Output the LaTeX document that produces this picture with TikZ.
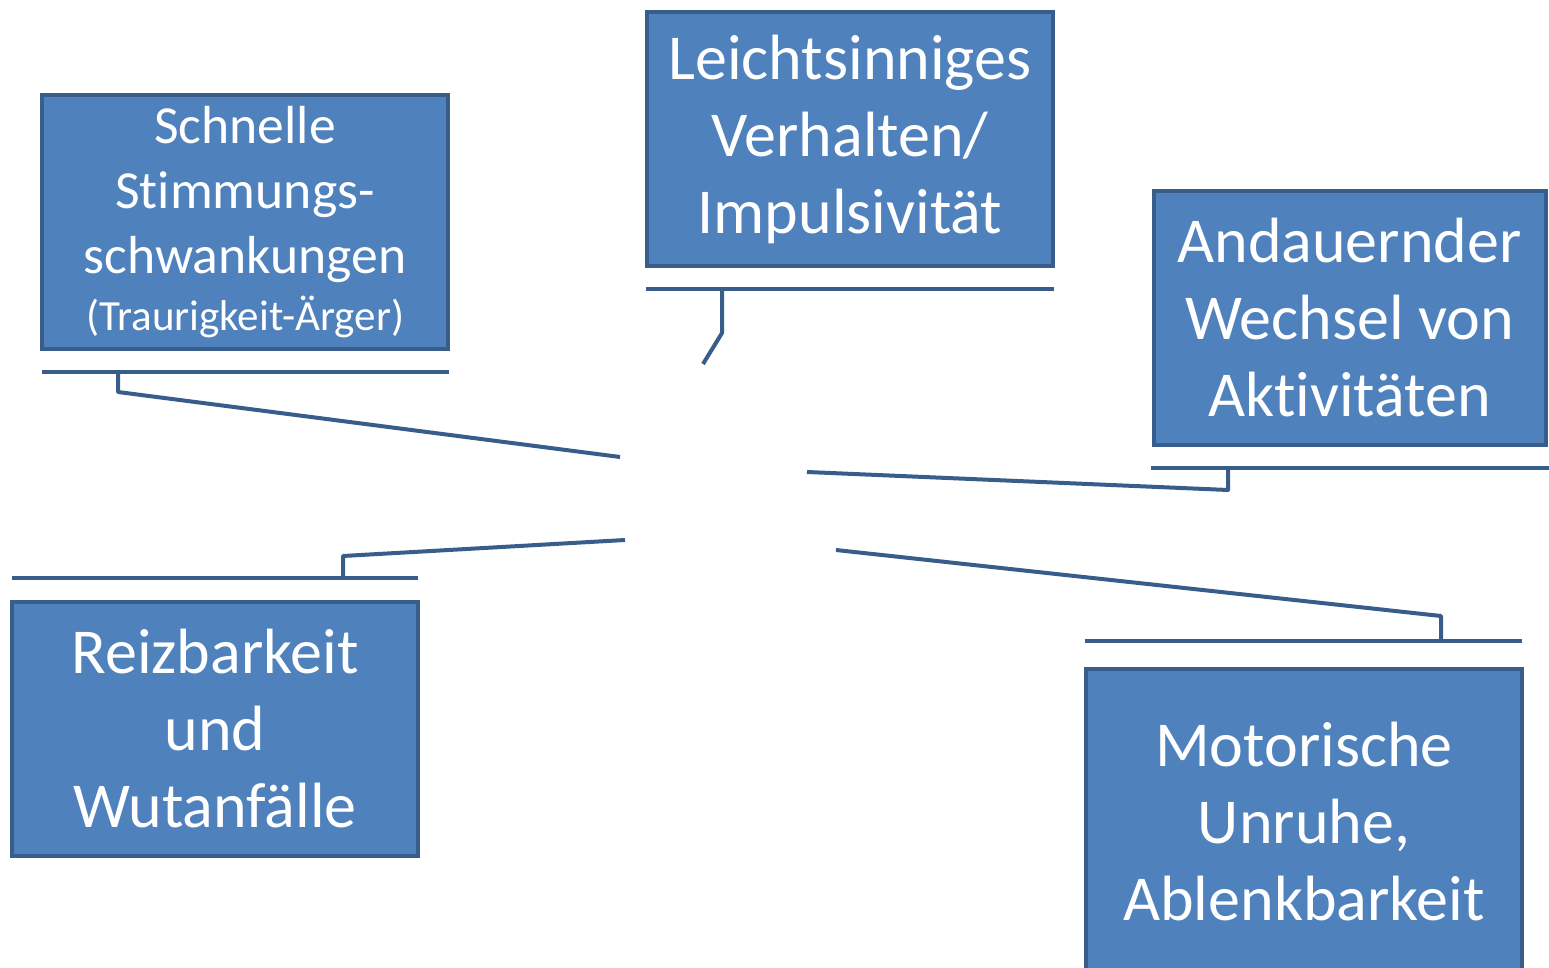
\documentclass[tikz,border=0pt]{standalone}
\usepackage{fontspec}
\setmainfont{Carlito}[Ligatures=NoCommon]
\usetikzlibrary{positioning}

\definecolor{boxfill}{HTML}{4F81BD}
\definecolor{boxline}{HTML}{385D8A}

\begin{document}
\begin{tikzpicture}[
    x=0.5pt, y=-0.5pt,
    align=center,
    % nodes
    base/.style={rectangle, draw=boxline, line width=2pt, fill=boxfill, text=white, inner sep=0pt},
    box/.style={base, minimum width=203pt, minimum height=127pt, font=\fontsize{32}{38.5}\selectfont},
    smallbox/.style={base, minimum width=203pt, minimum height=127pt, font=\fontsize{26.8}{32.5}\selectfont},
    % lines
    bar/.style={boxline, line width=2pt},
    link/.style={boxline, line width=2pt, line join=round}
  ]

  \clip (0,0) rectangle (1549,968);

  \node (schnelle)  [smallbox] at (245,222)    {Schnelle\\ Stimmungs-\\ schwankungen\\[-4pt]
                                                 {\fontsize{21.5}{27}\selectfont (Traurigkeit-Ärger)}};
  \node (leicht)    [box]      at (850,139)    {Leichtsinniges\\ Verhalten/\\ Impulsivität};
  \node (wechsel)   [box, minimum width=196pt] at (1349.5,318) {Andauernder\\ Wechsel von\\ Aktivitäten};
  \node (reiz)      [box]      at (215,728.5)  {Reizbarkeit\\ und\\ Wutanfälle};
  \node (motor)     [box, minimum width=218pt, minimum height=153pt] at (1304,822)
                                                {Motorische\\ Unruhe,\\ Ablenkbarkeit};

  % bars under / above the boxes
  \draw[bar] (42,372)   -- (449,372);
  \draw[bar] (646,289)  -- (1054,289);
  \draw[bar] (1151,468) -- (1549,468);
  \draw[bar] (12,578)   -- (418,578);
  \draw[bar] (1085,641) -- (1522,641);

  % free ends towards the middle
  \coordinate (e1) at (620,457);
  \coordinate (e2) at (703,364);
  \coordinate (e3) at (807,472);
  \coordinate (e4) at (625,540);
  \coordinate (e5) at (836,550);

  \draw[link] (118,372)  -- (118,392)  -- (e1);
  \draw[link] (722,289)  -- (722,333)  -- (e2);
  \draw[link] (1228,468) -- (1228,490) -- (e3);
  \draw[link] (343,578)  -- (343,556)  -- (e4);
  \draw[link] (1441,641) -- (1441,616) -- (e5);
\end{tikzpicture}
\end{document}
